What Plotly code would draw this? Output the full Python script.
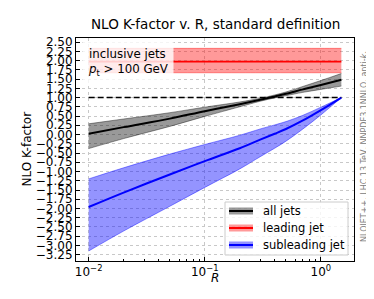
import plotly.graph_objects as go

# ---- data ----
R = [0.01, 0.02, 0.05, 0.1, 0.2, 0.3, 0.4, 0.5, 0.7, 1.0, 1.5]

all_c  = [0.02, 0.20, 0.43, 0.63, 0.82, 0.94, 1.03, 1.10, 1.22, 1.34, 1.48]
all_up = [0.29, 0.42, 0.59, 0.74, 0.88, 0.98, 1.07, 1.15, 1.30, 1.46, 1.65]
all_dn = [-0.38, -0.11, 0.22, 0.49, 0.75, 0.90, 0.99, 1.05, 1.14, 1.22, 1.31]

lead_c  = [1.97] * len(R)
lead_up = [2.33] * len(R)
lead_dn = [1.67] * len(R)

sub_c  = [-1.96, -1.57, -1.08, -0.72, -0.37, -0.14, 0.02, 0.15, 0.38, 0.66, 1.00]
sub_up = [-1.20, -0.90, -0.53, -0.27, -0.02, 0.15, 0.26, 0.35, 0.52, 0.74, 1.00]
sub_dn = [-3.15, -2.61, -1.94, -1.43, -0.93, -0.60, -0.37, -0.18, 0.15, 0.53, 1.00]

names = ["all jets", "leading jet", "subleading jet"]
line_cols = ["black", "red", "blue"]
fill_cols = ["rgba(0,0,0,0.4)", "rgba(255,0,0,0.4)", "rgba(0,0,255,0.42)"]
centres = [all_c, lead_c, sub_c]
uppers = [all_up, lead_up, sub_up]
lowers = [all_dn, lead_dn, sub_dn]

yticks = [2.5 - 0.25 * i for i in range(24)]
xtick_vals = [0.01, 0.1, 1]
xtick_text = ["10<sup>−2</sup>", "10<sup>−1</sup>", "10<sup>0</sup>"]
xminor_vals = [k * 0.01 for k in range(2, 10)] + [k * 0.1 for k in range(2, 10)] + [2.0]

# ---- layout geometry (pixels) ----
W, H = 374, 299
L, Rr, T, B = 68, 346, 30, 253


def px(x):
    return (x - L) / (Rr - L)


def py(y):
    return (B - y) / (B - T)


fig = go.Figure()
for c, u, d, lc, fc, nm in zip(centres, uppers, lowers, line_cols, fill_cols, names):
    fig.add_trace(go.Scatter(x=R, y=u, mode="lines", line=dict(color=fc, width=1, shape="spline"),
                             showlegend=False, hoverinfo="skip"))
    fig.add_trace(go.Scatter(x=R, y=d, mode="lines", line=dict(color=fc, width=1, shape="spline"),
                             fill="tonexty", fillcolor=fc, showlegend=False, hoverinfo="skip"))
    fig.add_trace(go.Scatter(x=R, y=c, mode="lines", name=nm,
                             line=dict(color=lc, width=2 if lc != "red" else 1.6, shape="spline"),
                             showlegend=False))

fig.add_trace(go.Scatter(x=[R[0], R[-1]], y=[1, 1], mode="lines",
                         line=dict(color="black", width=1.5, dash="6px,3px"),
                         showlegend=False))

font = "DejaVu Sans"
fig.update_layout(
    width=W, height=H,
    margin=dict(l=L, r=W - Rr, t=T, b=H - B, pad=0, autoexpand=False),
    paper_bgcolor="white", plot_bgcolor="white",
    font=dict(family=font, size=12, color="black"),
    showlegend=False,
)
fig.update_xaxes(type="log", range=[-2.109, 0.285], automargin=False,
                 tickvals=xtick_vals, ticktext=xtick_text,
                 ticks="inside", ticklen=4, tickcolor="black",
                 showgrid=True, gridcolor="#c8c8c8", griddash="dot", gridwidth=0.8,
                 showline=True, linecolor="black", linewidth=1, mirror=True,
                 minor=dict(tickvals=xminor_vals, ticks="inside", ticklen=2,
                            tickcolor="black", showgrid=False),
                 zeroline=False, tickfont=dict(size=12))
fig.update_yaxes(range=[-3.42, 2.61], tickvals=yticks, automargin=False,
                 ticktext=[f"{v:.2f}".replace("-", "−") for v in yticks],
                 ticks="inside", ticklen=4, tickcolor="black",
                 showgrid=True, gridcolor="#c8c8c8", griddash="dot", gridwidth=0.8,
                 showline=True, linecolor="black", linewidth=1, mirror=True,
                 zeroline=False, tickfont=dict(size=12))

ann = []
ann.append(dict(text="NLO K-factor v. R, standard definition", x=0.5, y=py(16),
                xref="paper", yref="paper", showarrow=False, font=dict(size=13.5),
                xanchor="center", yanchor="middle"))
ann.append(dict(text="NLO K-factor", x=px(18), y=0.5, textangle=-90,
                xref="paper", yref="paper", showarrow=False, font=dict(size=12),
                xanchor="center", yanchor="middle"))
ann.append(dict(text="<i>R</i>", x=0.5, y=py(270), xref="paper", yref="paper",
                showarrow=False, font=dict(size=12), xanchor="center", yanchor="middle"))
ann.append(dict(text="inclusive jets<br><i>p</i><sub>t</sub> > 100 GeV",
                x=px(74), y=py(33), xref="paper", yref="paper", showarrow=False,
                align="left", xanchor="left", yanchor="top",
                bgcolor="rgba(255,255,255,0.8)", borderpad=5, font=dict(size=11.8)))
ann.append(dict(text="NLOJET++, LHC 13 TeV, NNPDF3.1NNLO, anti-<i>k<sub>t</sub></i>",
                x=px(357), y=py(139), textangle=-90, xref="paper", yref="paper",
                showarrow=False, font=dict(size=8, color="#808080"),
                xanchor="center", yanchor="middle"))

# manual legend
shapes = [dict(type="rect", xref="paper", yref="paper",
               x0=px(217), x1=px(340), y0=py(247), y1=py(194),
               fillcolor="rgba(255,255,255,0.8)", line=dict(color="#cccccc", width=1),
               layer="above")]
rows = [203, 220, 237]
for yy, nm, lc, fc in zip(rows, names, line_cols, fill_cols):
    shapes.append(dict(type="rect", xref="paper", yref="paper",
                       x0=px(221), x1=px(245), y0=py(yy + 3.5), y1=py(yy - 3.5),
                       fillcolor=fc, line=dict(width=0), layer="above"))
    shapes.append(dict(type="line", xref="paper", yref="paper",
                       x0=px(221), x1=px(245), y0=py(yy), y1=py(yy),
                       line=dict(color=lc, width=2), layer="above"))
    ann.append(dict(text=nm, x=px(253), y=py(yy), xref="paper", yref="paper",
                    showarrow=False, xanchor="left", yanchor="middle", font=dict(size=11.5)))

fig.update_layout(annotations=ann, shapes=shapes)
fig.write_html("out.html")
